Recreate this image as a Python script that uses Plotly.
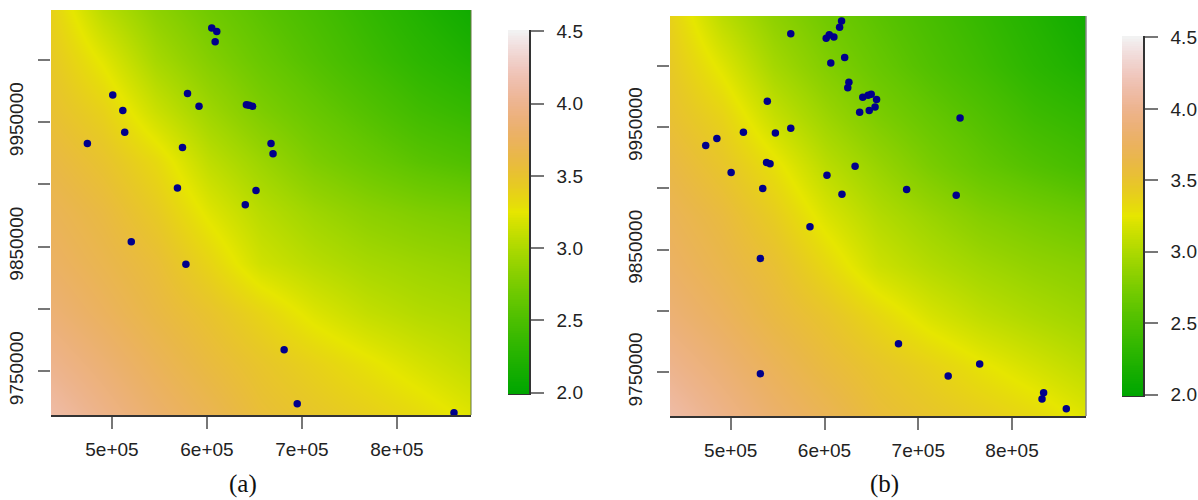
import colorsys
import numpy as np
import plotly.graph_objects as go

# ---- data ----
x_grid_a = [436000, 491000, 546500, 602000, 657000, 712500, 768000, 823000, 878000]
y_grid_a = [9715000, 9755500, 9796500, 9837000, 9877500, 9918000, 9959000, 9999500, 10040000]
z_a = [
    [4.12, 3.97, 3.82, 3.69, 3.55, 3.47, 3.40, 3.32, 3.22],
    [3.99, 3.86, 3.72, 3.59, 3.48, 3.38, 3.28, 3.18, 3.09],
    [3.87, 3.75, 3.62, 3.50, 3.36, 3.21, 3.10, 3.03, 2.99],
    [3.78, 3.67, 3.55, 3.36, 3.15, 3.05, 2.97, 2.92, 2.88],
    [3.71, 3.60, 3.44, 3.22, 3.05, 2.93, 2.84, 2.78, 2.74],
    [3.62, 3.50, 3.33, 3.08, 2.92, 2.77, 2.67, 2.58, 2.52],
    [3.52, 3.38, 3.13, 2.93, 2.77, 2.65, 2.54, 2.43, 2.36],
    [3.45, 3.23, 2.97, 2.80, 2.66, 2.54, 2.42, 2.31, 2.22],
    [3.38, 3.06, 2.85, 2.70, 2.58, 2.47, 2.35, 2.23, 2.12],
]
x_grid_b = [435000, 490500, 546000, 601500, 657000, 712500, 768000, 823500, 879000]
y_grid_b = [9714000, 9755000, 9796000, 9836500, 9877500, 9918000, 9959000, 9999500, 10041000]
z_b = [
    [4.12, 3.97, 3.82, 3.70, 3.56, 3.48, 3.41, 3.33, 3.22],
    [3.99, 3.86, 3.72, 3.59, 3.48, 3.38, 3.27, 3.17, 3.07],
    [3.87, 3.75, 3.61, 3.49, 3.34, 3.19, 3.08, 3.00, 2.93],
    [3.78, 3.66, 3.53, 3.34, 3.14, 3.03, 2.94, 2.87, 2.82],
    [3.71, 3.59, 3.42, 3.20, 3.03, 2.91, 2.80, 2.73, 2.67],
    [3.62, 3.48, 3.29, 3.06, 2.90, 2.75, 2.63, 2.54, 2.46],
    [3.52, 3.37, 3.11, 2.92, 2.76, 2.64, 2.53, 2.41, 2.34],
    [3.45, 3.22, 2.96, 2.79, 2.65, 2.53, 2.42, 2.30, 2.20],
    [3.38, 3.06, 2.85, 2.70, 2.58, 2.47, 2.36, 2.24, 2.12],
]
pts_x_a = [605000, 610300, 608600, 500800, 579500, 511400, 591600, 641500, 644300, 648000, 513400,
           474100, 574200, 667400, 669500, 568900, 651600, 640300, 520300, 577800, 681200, 695000, 860000]
pts_y_a = [10025500, 10022800, 10014500, 9971700, 9973000, 9959300, 9962600, 9963900, 9963400, 9962600, 9941900,
           9932800, 9929600, 9932800, 9924500, 9897000, 9895100, 9883600, 9853900, 9835700, 9767100, 9723800, 9716500]
pts_x_b = [618200, 616100, 564000, 605100, 601800, 610000, 621500, 606700, 626000, 624800, 640800, 646500, 649800,
           655500, 653900, 647700, 637500, 539000, 744600, 564000, 513500, 547600, 485200, 473300, 538200, 541900,
           632600, 500400, 602600, 534100, 687600, 618600, 740500, 584500, 531600, 678900, 765500, 531600, 731900,
           833700, 832000, 857900]
pts_y_b = [10036300, 10031200, 10026000, 10025200, 10022200, 10023300, 10006500, 10002100, 9986400, 9982000,
           9974200, 9975800, 9976600, 9972300, 9966300, 9963300, 9962000, 9970900, 9957300, 9948900, 9945700,
           9945100, 9940500, 9934800, 9921000, 9919900, 9918000, 9912800, 9910700, 9899800, 9899000, 9895200,
           9894400, 9868600, 9842800, 9773300, 9756800, 9748900, 9747000, 9733400, 9728300, 9720400]
x_ticks = [500000, 600000, 700000, 800000]
x_labels = ["5e+05", "6e+05", "7e+05", "8e+05"]
y_ticks = [9750000, 9800000, 9850000, 9900000, 9950000, 10000000]
y_labels = ["9750000", "", "9850000", "", "9950000", ""]
bar_ticks = [2.0, 2.5, 3.0, 3.5, 4.0, 4.5]
bar_labels = ["2.0", "2.5", "3.0", "3.5", "4.0", "4.5"]
panel_names = ["(a)", "(b)"]

# ---- styles ----
W, H = 1198, 500
FONT = "Liberation Sans"
TXT = "#222222"
TICK = "#777777"
LINE = "#333333"
SIZE = 19


def terrain():
    stops = []
    n = 20
    for i in range(n + 1):
        t = i / n
        h, s, v = 4 / 12 + (2 / 12 - 4 / 12) * t, 1.0, 0.65 + 0.25 * t
        r, g, b = colorsys.hsv_to_rgb(h, s, v)
        stops.append([t / 2, f"rgb({r*255:.0f},{g*255:.0f},{b*255:.0f})"])
    for i in range(1, n + 1):
        t = i / n
        h, s, v = 2 / 12 * (1 - t), 1 - t, 0.9 + 0.05 * t
        r, g, b = colorsys.hsv_to_rgb(h, s, v)
        stops.append([0.5 + t / 2, f"rgb({r*255:.0f},{g*255:.0f},{b*255:.0f})"])
    return stops


CS = terrain()
fig = go.Figure()


def dx(a, b):
    return [a / W, b / W]


def dy(top, bottom):
    return [1 - bottom / H, 1 - top / H]


def panel(i, xg, yg, z, px, py, xr, yr, xdom, ydom, bx, by, brange, lab, edge, edgew):
    n1 = "" if i == 0 else str(2 * i + 1)
    n2 = str(2 * i + 2)
    xa, ya = f"x{n1}", f"y{n1}"
    xb, yb = f"x{n2}", f"y{n2}"
    fig.add_trace(go.Heatmap(x=xg, y=yg, z=z, zmin=2, zmax=4.5, colorscale=CS, zsmooth="best",
                             showscale=False, xaxis=xa, yaxis=ya, hoverinfo="skip"))
    fig.add_trace(go.Scatter(x=px, y=py, mode="markers", xaxis=xa, yaxis=ya, cliponaxis=False,
                             marker=dict(color="#00008B", size=7.5), showlegend=False, hoverinfo="skip"))
    levels = np.linspace(brange[0], brange[1], 201)
    fig.add_trace(go.Heatmap(x=[0, 1], y=levels, z=[[v, v] for v in levels], zmin=2, zmax=4.5, colorscale=CS,
                             showscale=False, xaxis=xb, yaxis=yb, hoverinfo="skip"))
    tf = dict(family=FONT, size=SIZE, color=TXT)
    fig.update_layout({
        f"xaxis{n1}": dict(domain=xdom, range=xr, anchor=ya, tickmode="array", tickvals=x_ticks, ticktext=x_labels,
                           ticks="outside", ticklen=12, tickwidth=1.5, tickcolor=TICK, showgrid=False, zeroline=False,
                           showline=True, linecolor=LINE, linewidth=1.5, tickfont=tf, tickangle=0,
                           ticklabelstandoff=4),
        f"yaxis{n1}": dict(domain=ydom, range=yr, anchor=xa, tickmode="array", tickvals=y_ticks, ticktext=y_labels,
                           ticks="outside", ticklen=12, tickwidth=1.5, tickcolor=TICK, showgrid=False, zeroline=False,
                           showline=False, tickfont=tf, tickangle=-90, ticklabelstandoff=7),
        f"xaxis{n2}": dict(domain=bx, range=[0, 1], anchor=yb, showticklabels=False, ticks="", showgrid=False,
                           zeroline=False, showline=True, linecolor=LINE, linewidth=1),
        f"yaxis{n2}": dict(domain=by, range=brange, anchor=xb, side="right", tickmode="array", tickvals=bar_ticks,
                           ticktext=bar_labels, ticks="outside", ticklen=13, tickwidth=1.5, tickcolor=TICK,
                           showgrid=False, zeroline=False, showline=True, linecolor=LINE, linewidth=1.5,
                           tickfont=tf, ticklabelstandoff=9),
    })
    fig.add_shape(type="line", xref=f"{xa} domain", yref=f"{ya} domain", x0=1, x1=1, y0=0, y1=1,
                  line=dict(color=edge, width=edgew), layer="above")
    fig.add_annotation(text=panel_names[i], xref="paper", yref="paper", x=lab[0] / W, y=1 - lab[1] / H,
                       showarrow=False, font=dict(family="Liberation Serif", size=25, color="#111111"),
                       xanchor="center", yanchor="middle")


panel(0, x_grid_a, y_grid_a, z_a, pts_x_a, pts_y_a, [435800, 877900], [9714700, 10040000],
      dx(51, 471), dy(10, 415), dx(508, 529), dy(30, 394), [1.99, 4.51], (243, 484), "#667744", 1)
panel(1, x_grid_b, y_grid_b, z_b, pts_x_b, pts_y_b, [435200, 878900], [9714400, 10040400],
      dx(670, 1086), dy(16, 416), dx(1122, 1143), dy(36, 396), [1.99, 4.51], (884, 484), "#888888", 1.5)

fig.update_layout(width=W, height=H, autosize=False, margin=dict(l=0, r=0, t=0, b=0, autoexpand=False),
                  paper_bgcolor="white", plot_bgcolor="white", showlegend=False)
fig.write_html("out.html", post_script="document.body.style.margin='0';", config={"displayModeBar": False})
